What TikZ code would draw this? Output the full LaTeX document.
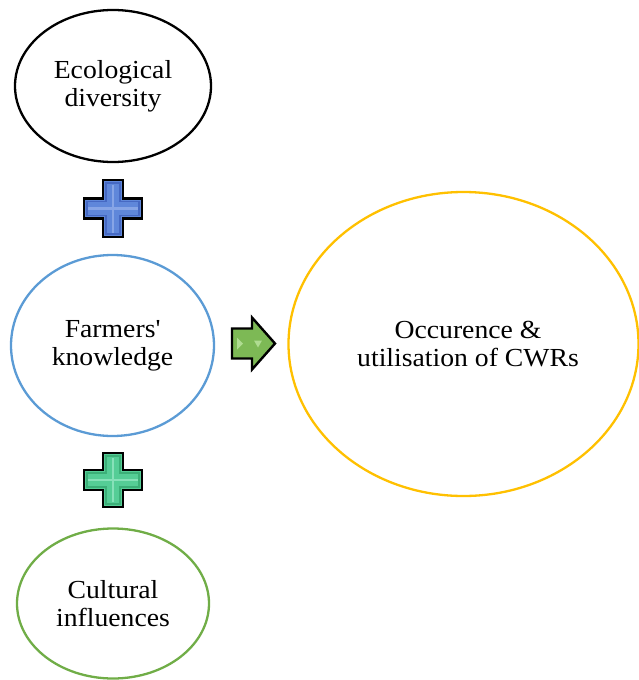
\documentclass[tikz,border=0pt]{standalone}
\usepackage{fontspec}
\setmainfont{Liberation Serif}[FakeStretch=1.065]
\usetikzlibrary{shapes.geometric}
\definecolor{ecoline}{RGB}{0,0,0}
\definecolor{farmline}{RGB}{91,155,213}
\definecolor{cultline}{RGB}{112,173,71}
\definecolor{occline}{RGB}{255,192,0}
\definecolor{plusblue}{RGB}{95,135,218}
\definecolor{plusbluelt}{RGB}{135,165,230}
\definecolor{plusbluedk}{RGB}{70,105,195}
\definecolor{plusgreen}{RGB}{85,205,150}
\definecolor{plusgreenlt}{RGB}{135,225,185}
\definecolor{plusgreendk}{RGB}{60,175,120}
\definecolor{arrgreen}{RGB}{125,185,85}
\definecolor{arrgreenlt}{RGB}{175,220,145}
\begin{document}
\begin{tikzpicture}[x=1pt,y=-1pt,
  bubble/.style={ellipse, draw, line width=2.3pt, inner sep=0pt, align=center,
    font=\fontsize{26}{28}\selectfont},
  bubbletext/.style={align=center, inner sep=0pt, font=\fontsize{26}{28}\selectfont},
  plusout/.style={draw=black, line width=2.4pt, line join=miter},
]
\useasboundingbox (0,0) rectangle (639,680);

\node[bubble, draw=ecoline, minimum width=196pt, minimum height=152pt] (eco) at (113,86) {Ecological\\diversity};
\node[bubble, draw=farmline, minimum width=203pt, minimum height=181pt] (farm) at (112.5,345.5) {Farmers\textquotesingle\\knowledge};
\node[bubble, draw=cultline, minimum width=192pt, minimum height=150pt] (cult) at (113,603.5) {Cultural\\influences};
\node[bubble, draw=occline, minimum width=350pt, minimum height=304pt] (occ) at (463.5,344) {};
\node[bubbletext] (occtext) at (468,344) {Occurence \&\\utilisation of CWRs};

% blue plus
\coordinate (bp) at (113,208.5);
\begin{scope}[shift={(bp)}]
  \path[plusout, fill=plusblue] (-10,-28.5) -- (10,-28.5) -- (10,-10) -- (29,-10) -- (29,10) -- (10,10) -- (10,28.5) -- (-10,28.5) -- (-10,10) -- (-29,10) -- (-29,-10) -- (-10,-10) -- cycle;
  \draw[plusbluedk, line width=1.2pt] (-7,-25.5) -- (7,-25.5) -- (7,-7) -- (26,-7) -- (26,7) -- (7,7) -- (7,25.5) -- (-7,25.5) -- (-7,7) -- (-26,7) -- (-26,-7) -- (-7,-7) -- cycle;
  \draw[plusbluelt, line width=2.5pt] (0,-24) -- (0,24) (-25,0) -- (25,0);
\end{scope}

% green plus
\coordinate (gp) at (113,480);
\begin{scope}[shift={(gp)}]
  \path[plusout, fill=plusgreen] (-10,-27) -- (10,-27) -- (10,-10) -- (29,-10) -- (29,10) -- (10,10) -- (10,27) -- (-10,27) -- (-10,10) -- (-29,10) -- (-29,-10) -- (-10,-10) -- cycle;
  \draw[plusgreendk, line width=1.2pt] (-7,-24) -- (7,-24) -- (7,-7) -- (26,-7) -- (26,7) -- (7,7) -- (7,24) -- (-7,24) -- (-7,7) -- (-26,7) -- (-26,-7) -- (-7,-7) -- cycle;
  \draw[plusgreenlt, line width=2.5pt] (0,-22) -- (0,22) (-25,0) -- (25,0);
\end{scope}

% arrow
\coordinate (ar) at (232,343.5);
\begin{scope}[shift={(ar)}]
  \path[plusout, fill=arrgreen] (0,-15) -- (20,-15) -- (20,-26) -- (43,0) -- (20,26) -- (20,15) -- (0,15) -- cycle;
  \fill[arrgreenlt] (5,-6) -- (11,0) -- (5,6) -- cycle;
  \fill[arrgreenlt] (22,-3) -- (30,-3) -- (26,4) -- cycle;
\end{scope}
\end{tikzpicture}
\end{document}
